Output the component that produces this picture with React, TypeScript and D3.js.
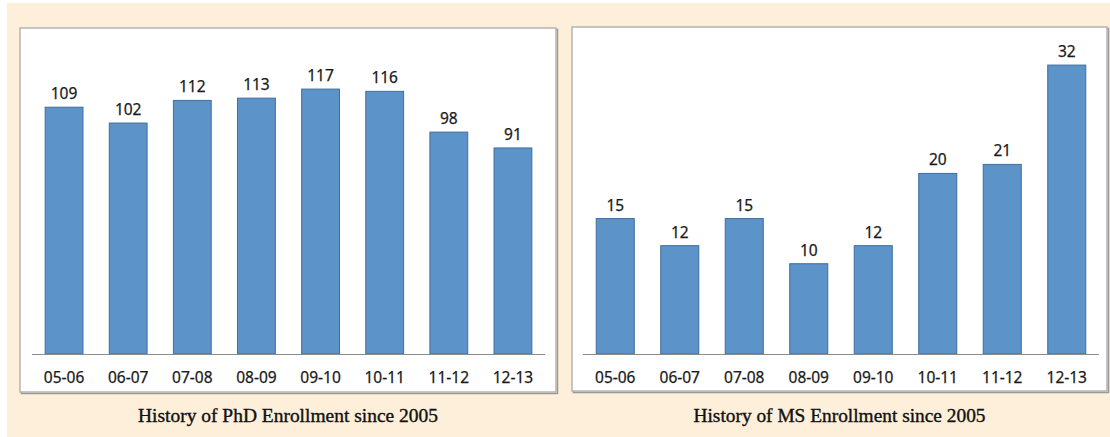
import React from "react";
import * as d3 from "d3";

const years = ["05-06", "06-07", "07-08", "08-09", "09-10", "10-11", "11-12", "12-13"];
const phdValues = [109, 102, 112, 113, 117, 116, 98, 91];
const msValues = [15, 12, 15, 10, 12, 20, 21, 32];
const phdMax = 140;
const msMax = 35;
const phdTitle = "History of PhD Enrollment since 2005";
const msTitle = "History of MS Enrollment since 2005";

const width = 1110;
const height = 437;
const barFill = "#5c93c9";
const barStroke = "#3f6f9f";

type PanelProps = {
  x: number;
  y: number;
  w: number;
  h: number;
  values: number[];
  max: number;
  title: string;
  axisLeft: number;
  axisRight: number;
  top: number;
  titleWidth: number;
};

const Panel = ({ x, y, w, h, values, max, title, axisLeft, axisRight, top, titleWidth }: PanelProps) => {
  const baseline = 354;
  const xScale = d3.scaleBand().domain(years).range([axisLeft, axisRight]).paddingInner(0.41).paddingOuter(0.205);
  const yScale = d3.scaleLinear().domain([0, max]).range([baseline, top]);
  const data = years.map((c, i) => ({ c, v: values[i] }));

  return (
    <g>
      {/* shadow */}
      <rect x={x + 1.5} y={y + 1.5} width={w} height={h} fill="none" stroke="#9a9a9a" strokeWidth={1.5} />
      <rect x={x} y={y} width={w} height={h} fill="#fff" stroke="#b4b4b4" strokeWidth={1.5} />
      {data.map((d) => (
        <rect
          key={d.c}
          x={xScale(d.c)}
          y={yScale(d.v)}
          width={xScale.bandwidth()}
          height={yScale(0) - yScale(d.v)}
          fill={barFill}
          stroke={barStroke}
          strokeWidth={1}
        />
      ))}
      <line x1={axisLeft} x2={axisRight} y1={baseline + 0.5} y2={baseline + 0.5} stroke="#8c8c8c" strokeWidth={1} />
      {data.map((d) => (
        <text
          key={"v" + d.c}
          x={(xScale(d.c) as number) + xScale.bandwidth() / 2}
          y={yScale(d.v) - 8}
          textAnchor="middle"
          fontFamily="'Noto Sans', sans-serif"
          fontSize={15.5}
          fill="#1a1a1a"
          stroke="#1a1a1a"
          strokeWidth={0.25}
        >
          {d.v}
        </text>
      ))}
      {data.map((d) => (
        <text
          key={"c" + d.c}
          x={(xScale(d.c) as number) + xScale.bandwidth() / 2}
          y={383}
          textAnchor="middle"
          fontFamily="'Noto Sans', sans-serif"
          fontSize={15.5}
          fill="#1a1a1a"
          stroke="#1a1a1a"
          strokeWidth={0.25}
        >
          {d.c}
        </text>
      ))}
      <text
        x={x + w / 2}
        y={422}
        textAnchor="middle"
        fontFamily="'Liberation Serif', serif"
        fontSize={18}
        fill="#111"
        stroke="#111"
        strokeWidth={0.35}
        textLength={titleWidth}
        lengthAdjust="spacingAndGlyphs"
      >
        {title}
      </text>
    </g>
  );
};

export default function App() {
  return (
    <svg width={width} height={height} style={{ position: "absolute", left: 0, top: 0 }}>
      <rect x={0} y={0} width={width} height={height} fill="#fff" />
      <rect x={7} y={3} width={width - 7} height={height - 3} fill="#fdefd9" />
      <Panel x={20} y={28} w={536} h={364} values={phdValues} max={phdMax} title={phdTitle}
        axisLeft={32} axisRight={545} top={37} titleWidth={300} />
      <Panel x={572} y={27} w={535} h={364} values={msValues} max={msMax} title={msTitle}
        axisLeft={583} axisRight={1099} top={38} titleWidth={292} />
    </svg>
  );
}
